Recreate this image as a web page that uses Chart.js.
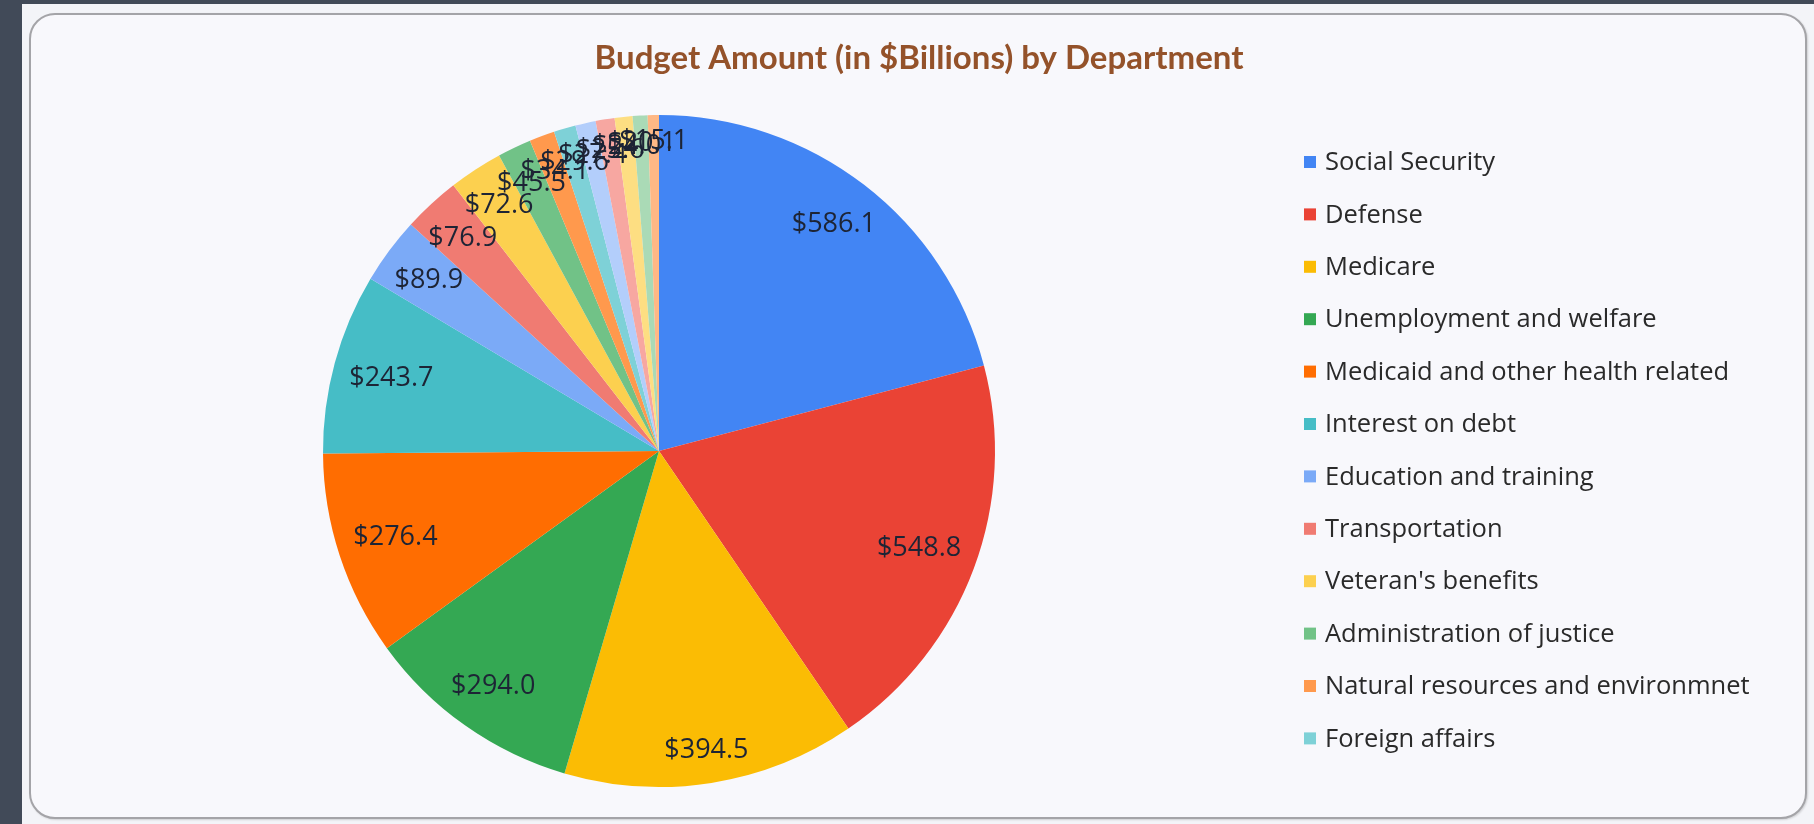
<!DOCTYPE html>
<html>
<head>
<meta charset="utf-8">
<script src="https://cdn.jsdelivr.net/npm/chart.js@4.4.1/dist/chart.umd.min.js"></script>
<style>
  html, body { margin: 0; padding: 0; width: 1814px; height: 824px; overflow: hidden; background: #f3f4f8; }
  .strip-left { position: absolute; left: 0; top: 0; width: 22px; height: 824px; background: #414a58; }
  .strip-top { position: absolute; left: 0; top: 0; width: 1814px; height: 4px; background: #414a58; }
  .card {
    position: absolute; left: 29px; top: 13px; width: 1774px; height: 802px;
    border: 2px solid #a4a4a8; border-radius: 26px; background: #f8f8fc;
    box-shadow: 1px 1px 2px rgba(0,0,0,0.15);
  }
  #chart { position: absolute; left: 0; top: 0; }
</style>
</head>
<body>
<div class="strip-left"></div>
<div class="strip-top"></div>
<div class="card"></div>
<canvas id="chart" width="1814" height="824"></canvas>
<script>
// Federal budget by department, in billions of dollars
const departments = [
  "Social Security",
  "Defense",
  "Medicare",
  "Unemployment and welfare",
  "Medicaid and other health related",
  "Interest on debt",
  "Education and training",
  "Transportation",
  "Veteran's benefits",
  "Administration of justice",
  "Natural resources and environmnet",
  "Foreign affairs",
  "General government",
  "Science and space",
  "Agriculture",
  "Community development",
  "Energy"
];
const amounts = [586.1, 548.8, 394.5, 294.0, 276.4, 243.7, 89.9, 76.9, 72.6, 45.5, 34.1, 29.6, 27.4, 25.6, 24.0, 20.1, 15.1];
const sliceColors = [
  "#4285F4", "#EA4335", "#FBBC04", "#34A853", "#FF6D01", "#46BDC6",
  "#7BAAF7", "#F07B72", "#FCD04F", "#71C287", "#FF994D", "#7ED1D7",
  "#B3CEFB", "#F7A7A1", "#FDDE82", "#AADAB6", "#FFB885"
];
const chartTitle = "Budget Amount (in $Billions) by Department";
const legendCount = 12;

const TEXT_FONT = "'Open Sans', Lato, sans-serif";
const TITLE_FONT = "Lato, 'Open Sans', sans-serif";

// Value labels placed inside each slice near the rim
const sliceLabels = {
  id: 'sliceLabels',
  afterDatasetsDraw(chart) {
    const ctx = chart.ctx;
    const meta = chart.getDatasetMeta(0);
    ctx.save();
    ctx.font = "27px " + TEXT_FONT;
    ctx.fillStyle = "#1d2435";
    ctx.textAlign = "center";
    ctx.textBaseline = "middle";
    meta.data.forEach((arc, i) => {
      const p = arc.getProps(['x', 'y', 'startAngle', 'endAngle', 'outerRadius'], true);
      const mid = (p.startAngle + p.endAngle) / 2;
      const txt = "$" + amounts[i].toFixed(1);
      const hw = ctx.measureText(txt).width / 2;
      const hh = 11;
      const c = Math.cos(mid), s = Math.sin(mid);
      const d = 0.955 * p.outerRadius - (hw * Math.abs(c) + hh * Math.abs(s));
      ctx.fillText(txt, p.x + c * d, p.y + s * d);
    });
    ctx.restore();
  }
};

// Title and side legend
const chartDecor = {
  id: 'chartDecor',
  afterDraw(chart) {
    const ctx = chart.ctx;
    ctx.save();
    ctx.font = "bold 33px " + TITLE_FONT;
    ctx.fillStyle = "#94522a";
    ctx.textAlign = "center";
    ctx.textBaseline = "middle";
    ctx.fillText(chartTitle, 919, 58);

    ctx.font = "25.5px " + TEXT_FONT;
    ctx.textAlign = "left";
    const labels = chart.data.labels;
    const colors = chart.data.datasets[0].backgroundColor;
    for (let i = 0; i < legendCount; i++) {
      const y = 162 + i * 52.4;
      ctx.fillStyle = colors[i];
      ctx.fillRect(1304, y - 6, 12, 12);
      ctx.fillStyle = "#2a2a2a";
      ctx.fillText(labels[i], 1325, y + 1);
    }
    ctx.restore();
  }
};

new Chart(document.getElementById('chart'), {
  type: 'pie',
  data: {
    labels: departments,
    datasets: [{
      data: amounts,
      backgroundColor: sliceColors,
      borderWidth: 0
    }]
  },
  options: {
    responsive: false,
    animation: false,
    layout: { padding: { left: 323, right: 819, top: 115, bottom: 37 } },
    plugins: {
      legend: { display: false },
      title: { display: false },
      tooltip: { enabled: false }
    }
  },
  plugins: [sliceLabels, chartDecor]
});
</script>
</body>
</html>
